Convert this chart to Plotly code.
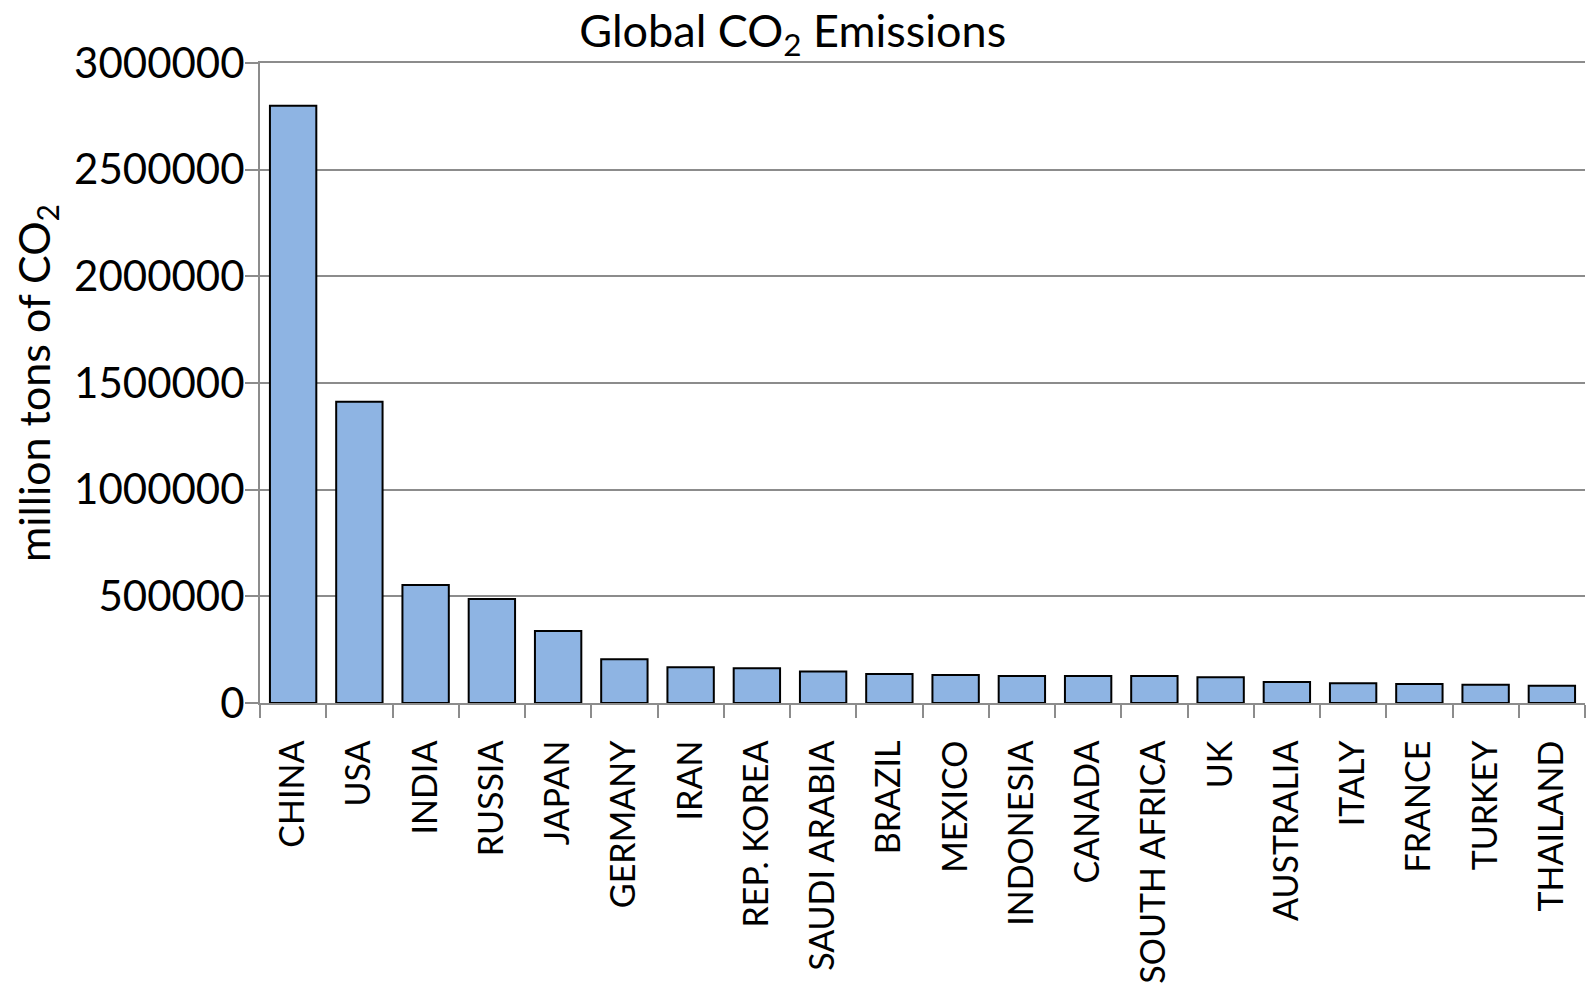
import plotly.graph_objects as go

# Emissions by country
countries = ["CHINA", "USA", "INDIA", "RUSSIA", "JAPAN", "GERMANY", "IRAN",
             "REP. KOREA", "SAUDI ARABIA", "BRAZIL", "MEXICO", "INDONESIA",
             "CANADA", "SOUTH AFRICA", "UK", "AUSTRALIA", "ITALY", "FRANCE",
             "TURKEY", "THAILAND"]
emissions = [2800000, 1412000, 553000, 487000, 338000, 205000, 168000,
             163000, 148000, 136000, 131000, 127000,
             127000, 127000, 121000, 99000, 92000, 89000,
             86000, 81000]

font_family = "Lato, 'Liberation Sans', sans-serif"
grey = "#8C8C8C"

fig = go.Figure(go.Bar(
    x=countries,
    y=emissions,
    marker=dict(color="#8EB4E3", line=dict(color="black", width=2)),
))

fig.update_layout(
    width=1595,
    height=995,
    paper_bgcolor="white",
    plot_bgcolor="white",
    font=dict(family=font_family, size=42, color="black"),
    title=dict(text="Global CO<sub>2</sub> Emissions", x=0.492, xanchor="center",
               y=0.977, yanchor="middle", font=dict(size=45)),
    margin=dict(l=252, r=18, t=55, b=300),
    bargap=0.3,
    showlegend=False,
)

fig.update_yaxes(
    range=[0, 3000000],
    dtick=500000,
    tickformat="d",
    showgrid=True,
    gridcolor=grey,
    gridwidth=2,
    showline=True,
    linecolor=grey,
    linewidth=2,
    ticks="outside",
    ticklen=13,
    tickcolor=grey,
    tickwidth=2,
    ticklabelstandoff=-8,
    zeroline=False,
    title=dict(text="million tons of CO<sub>2</sub>", standoff=20, font=dict(size=43)),
    automargin=True,
)

fig.update_xaxes(
    showline=True,
    mirror=True,
    linecolor=grey,
    linewidth=2,
    ticks="outside",
    tickson="boundaries",
    ticklen=13,
    tickcolor=grey,
    tickwidth=2,
    tickangle=-90,
    tickfont=dict(size=34),
    ticklabelstandoff=22,
    automargin=False,
)

fig.write_html("out.html")
